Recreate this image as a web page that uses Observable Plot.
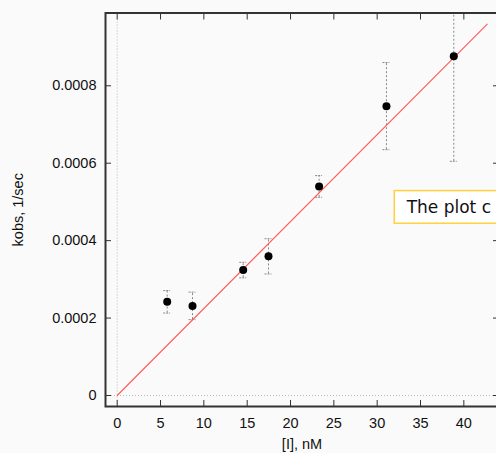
<!DOCTYPE html>
<html>
<head>
<meta charset="utf-8">
<script src="https://cdn.jsdelivr.net/npm/d3@7"></script>
<script src="https://cdn.jsdelivr.net/npm/@observablehq/plot@0.6"></script>
<style>
  html, body { margin: 0; padding: 0; background: #fafafa; overflow: hidden; }
  #chart svg { display: block; background: #fafafa; }
</style>
</head>
<body>
<div id="chart"></div>
<script>
// Measured data: concentration [I] (nM), kobs (1/sec), error bar ends
const conc   = [5.77, 8.69, 14.54, 17.46, 23.3, 31.07, 38.84];
const kobs   = [0.000242, 0.000231, 0.000324, 0.000360, 0.000540, 0.000747, 0.000876];
const errLo  = [0.000213, 0.000196, 0.000304, 0.000314, 0.000512, 0.000635, 0.000605];
const errHi  = [0.000271, 0.000267, 0.000344, 0.000405, 0.000568, 0.000860, 0.001147];

// Linear fit through origin
const fitX = [0, 42.7];
const fitY = [0, 0.000959];

// Tick values
const xTicks = [0, 5, 10, 15, 20, 25, 30, 35, 40];
const yTicks = [0, 0.0002, 0.0004, 0.0006, 0.0008];

// Axis titles
const xTitle = ["[I], nM"];
const yTitle = ["kobs, 1/sec"];

// Annotation
const noteText = ["The plot c"];
const noteX = [33.4];
const noteY = [0.000486];
const noteBoxX = [32.03, 46];
const noteBoxY = [0.0004437, 0.000528];

const points = conc.map((x, i) => ({x, y: kobs[i], lo: errLo[i], hi: errHi[i]}));
const fit = fitX.map((x, i) => ({x, y: fitY[i]}));

const font = "'Liberation Sans', Arial, Helvetica, sans-serif";
const yFmt = d => d === 0 ? "0" : d.toFixed(4);

const chart = Plot.plot({
  width: 496,
  height: 453,
  marginLeft: 105,
  marginRight: -2,
  marginTop: 12.5,
  marginBottom: 47,
  style: {fontFamily: font, fontSize: "14.5px", color: "#111", background: "#fafafa"},
  x: {domain: [-1.35, 44.0]},
  y: {domain: [-0.0000284, 0.000988]},
  marks: [
    Plot.ruleX([0], {stroke: "#bbb", strokeDasharray: "1,2"}),
    Plot.ruleY([0], {stroke: "#bbb", strokeDasharray: "1,2"}),
    Plot.ruleX(points, {x: "x", y1: "lo", y2: "hi", stroke: "#888", strokeDasharray: "2,2", clip: true}),
    Plot.ruleY(points, {y: "lo", x1: d => d.x - 0.4, x2: d => d.x + 0.4, stroke: "#888", strokeDasharray: "2,1"}),
    Plot.ruleY(points.filter(d => d.hi < 0.000988), {y: "hi", x1: d => d.x - 0.4, x2: d => d.x + 0.4, stroke: "#888", strokeDasharray: "2,1"}),
    Plot.line(fit, {x: "x", y: "y", stroke: "#ff5a5a", strokeWidth: 1.1}),
    Plot.dot(points, {x: "x", y: "y", r: 4, fill: "#000", stroke: "none"}),
    Plot.rect([0], {x1: noteBoxX[0], x2: noteBoxX[1], y1: noteBoxY[0], y2: noteBoxY[1], fill: "#fff", stroke: "#ffd23c", strokeWidth: 1.5}),
    Plot.text(noteText, {x: noteX, y: noteY, text: d => d, textAnchor: "start", fontSize: 17, fontFamily: "'DejaVu Sans', Verdana, sans-serif", fill: "#111"}),
    Plot.axisY(yTicks, {anchor: "left", tickSize: 6, dx: 6, tickPadding: 9, tickFormat: yFmt, stroke: "#333", fontSize: 14.5, label: null}),
    Plot.axisY(yTicks, {anchor: "right", tickSize: 6, dx: -6, tickFormat: () => "", stroke: "#333", label: null}),
    Plot.axisX(xTicks, {anchor: "bottom", tickSize: 6, dy: -6, tickPadding: 11, tickFormat: d => String(d), stroke: "#333", fontSize: 14.5, label: null}),
    Plot.axisX(xTicks, {anchor: "top", tickSize: 6, dy: 6, tickFormat: () => "", stroke: "#333", label: null}),
    Plot.text(yTitle, {frameAnchor: "left", text: d => d, rotate: -90, dx: -87, textAnchor: "middle", lineAnchor: "middle", fontSize: 14.5, fill: "#111"}),
    Plot.text(xTitle, {frameAnchor: "bottom", text: d => d, dy: 38, textAnchor: "middle", lineAnchor: "middle", fontSize: 14.5, fill: "#111"}),
    Plot.frame({stroke: "#333", strokeWidth: 2})
  ]
});
document.getElementById("chart").appendChild(chart);
</script>
</body>
</html>
